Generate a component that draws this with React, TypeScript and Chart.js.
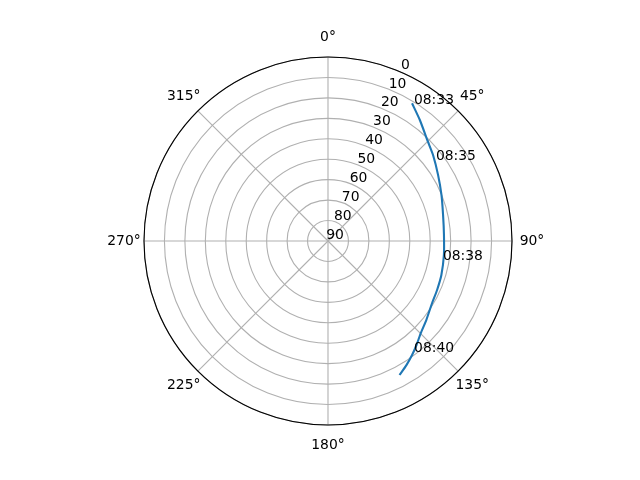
import { useEffect, useRef } from "react"
import { Chart, registerables } from "chart.js"

Chart.register(...registerables)

// pass track: azimuth (deg, clockwise from north) and elevation (deg)
const azimuth = [31.4, 37.2, 45.2, 50.7, 59.0, 67.9, 77.3, 87.0, 96.9, 106.7, 114.3, 120.9, 128.8, 134.9, 139.6, 143.6, 147.7, 151.9]
const elevation = [11.1, 15.7, 21.1, 23.6, 27.2, 30.1, 32.3, 33.2, 32.9, 32.1, 31.5, 30.7, 28.3, 26.0, 23.2, 20.7, 18.2, 15.7]

// time annotations along the track
const timeLabels = ["08:33", "08:35", "08:38", "08:40"]
const timeAzimuth = [32.1, 53.1, 99.6, 142.2]
const timeElevation = [10.9, 24.0, 33.0, 21.3]

const angleTicks = [0, 45, 90, 135, 180, 225, 270, 315]
const radialTicks = [0, 10, 20, 30, 40, 50, 60, 70, 80, 90]

const FONT = "13.9px 'DejaVu Sans'"

// elevation 90 sits at the centre, 0 on the rim
function toXY(az: number, el: number) {
  const r = 90 - el
  const a = (az * Math.PI) / 180
  return { x: r * Math.sin(a), y: r * Math.cos(a) }
}

const polarGrid = {
  id: "polarGrid",
  beforeDatasetsDraw(chart: any) {
    const { ctx } = chart
    const { x, y } = chart.scales
    const cx = x.getPixelForValue(0)
    const cy = y.getPixelForValue(0)
    const R = x.getPixelForValue(90) - cx
    ctx.save()
    ctx.strokeStyle = "#b0b0b0"
    ctx.lineWidth = 1.1
    radialTicks.forEach((t) => {
      const r = x.getPixelForValue(90 - t) - cx
      if (r <= 0) return
      ctx.beginPath()
      ctx.arc(cx, cy, r, 0, Math.PI * 2)
      ctx.stroke()
    })
    angleTicks.forEach((a) => {
      const th = (a * Math.PI) / 180
      ctx.beginPath()
      ctx.moveTo(cx, cy)
      ctx.lineTo(cx + R * Math.sin(th), cy - R * Math.cos(th))
      ctx.stroke()
    })
    ctx.strokeStyle = "#000000"
    ctx.lineWidth = 1.1
    ctx.beginPath()
    ctx.arc(cx, cy, R, 0, Math.PI * 2)
    ctx.stroke()
    ctx.restore()
  },
  afterDatasetsDraw(chart: any) {
    const { ctx } = chart
    const { x, y } = chart.scales
    const cx = x.getPixelForValue(0)
    const cy = y.getPixelForValue(0)
    const R = x.getPixelForValue(90) - cx
    ctx.save()
    ctx.font = FONT
    ctx.fillStyle = "#000000"

    // angle labels outside the rim
    ctx.textAlign = "center"
    ctx.textBaseline = "middle"
    angleTicks.forEach((a) => {
      const th = (a * Math.PI) / 180
      const d = R + 20
      ctx.fillText(a + "°", cx + d * Math.sin(th), cy - d * Math.cos(th))
    })

    // radial labels along 22.5°
    const rl = (22.5 * Math.PI) / 180
    radialTicks.forEach((t) => {
      const r = x.getPixelForValue(90 - t) - cx
      ctx.fillText(String(t), cx + r * Math.sin(rl) + 7, cy - r * Math.cos(rl) - 6)
    })

    // time annotations
    ctx.textAlign = "left"
    ctx.textBaseline = "alphabetic"
    timeLabels.forEach((label, i) => {
      const p = toXY(timeAzimuth[i], timeElevation[i])
      ctx.fillText(label, x.getPixelForValue(p.x), y.getPixelForValue(p.y))
    })
    ctx.restore()
  },
}

export default function App() {
  const chartRef = useRef<HTMLCanvasElement>(null)
  const chartInstance = useRef<Chart | null>(null)

  useEffect(() => {
    if (!chartRef.current) return

    if (chartInstance.current) {
      chartInstance.current.destroy()
    }

    const ctx = chartRef.current.getContext("2d")
    if (!ctx) return

    const track = azimuth.map((az, i) => toXY(az, elevation[i]))

    chartInstance.current = new Chart(ctx, {
      type: "scatter",
      data: {
        datasets: [
          {
            data: track,
            showLine: true,
            borderColor: "#1f77b4",
            backgroundColor: "#1f77b4",
            borderWidth: 2.1,
            pointRadius: 0,
            tension: 0.2,
            clip: false,
          },
        ],
      },
      options: {
        responsive: true,
        maintainAspectRatio: false,
        animation: false,
        layout: {
          padding: { left: 144, right: 128, top: 57, bottom: 55 },
        },
        scales: {
          x: { type: "linear", min: -90, max: 90, display: false },
          y: { type: "linear", min: -90, max: 90, display: false },
        },
        plugins: {
          legend: { display: false },
          tooltip: { enabled: false },
        },
      },
      plugins: [polarGrid],
    })

    return () => {
      if (chartInstance.current) {
        chartInstance.current.destroy()
        chartInstance.current = null
      }
    }
  }, [])

  return (
    <div style={{ position: "fixed", left: 0, top: 0, width: 640, height: 480, background: "#ffffff" }}>
      <canvas ref={chartRef} />
    </div>
  )
}
